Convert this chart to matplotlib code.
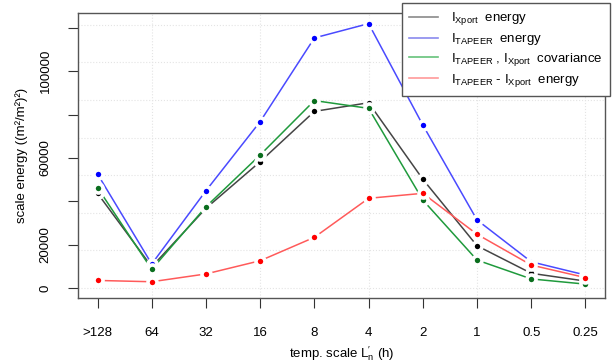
import matplotlib
matplotlib.use("Agg")
import matplotlib.pyplot as plt
import numpy as np

plt.rcParams['font.family'] = ['Liberation Sans', 'DejaVu Sans']
plt.rcParams['mathtext.fontset'] = 'custom'
plt.rcParams['mathtext.rm'] = 'Liberation Sans'
plt.rcParams['mathtext.it'] = 'Liberation Sans:italic'

scales = [">128", "64", "32", "16", "8", "4", "2", "1", "0.5", "0.25"]
xport = [43700, 9800, 36800, 58300, 81500, 85500, 50200, 19500, 6800, 3200]
tapeer = [52600, 11100, 44900, 76800, 115400, 122000, 75200, 31400, 12100, 6000]
covar = [46300, 8600, 37500, 61400, 86500, 82900, 40600, 12900, 4200, 1800]
diff = [3500, 2900, 6500, 12600, 23400, 41400, 43700, 24800, 10600, 4800]

labels = [r"$\mathrm{I_{Xport}}$  energy",
          r"$\mathrm{I_{TAPEER}}$  energy",
          r"$\mathrm{I_{TAPEER}}$ , $\mathrm{I_{Xport}}$  covariance",
          r"$\mathrm{I_{TAPEER}}$ - $\mathrm{I_{Xport}}$  energy"]
line_cols = ["#454545", "#4a4aff", "#1f9a3c", "#ff5a5a"]
pt_cols = ["black", "#0000ff", "#0a6e1e", "#ff0000"]
leg_cols = ["#8a8a8a", "#8a8aee", "#66c27a", "#ff9a9a"]

fig = plt.figure(figsize=(6.12, 3.63), dpi=100)
ax = fig.add_axes([78/612, 1-298/363, (605-78)/612, (298-13)/363])

x = np.arange(1, len(scales) + 1)
for ys, lc, pc in zip([xport, tapeer, covar, diff], line_cols, pt_cols):
    ax.plot(x, ys, color=lc, lw=1.1, zorder=2)
    ax.plot(x, ys, 'o', color=pc, ms=6.5, mec='white', mew=2.6, zorder=3)

# faint dotted grid
for g in np.arange(0, 8) * 17350:
    ax.axhline(g, color='#e4e4e4', lw=0.8, ls=':', zorder=0)
for xv in [2, 4, 6, 8, 10]:
    ax.axvline(xv, color='#e4e4e4', lw=0.8, ls=':', zorder=0)

ax.set_xlim(0.64, 10.36)
ax.set_ylim(-4600, 126900)
ax.set_xticks(x)
ax.set_xticklabels(scales)
yt = np.arange(0, 140000, 20000)
ax.set_yticks(yt)
ax.set_yticklabels([str(v) if v in (0, 20000, 60000, 100000) else "" for v in yt],
                   rotation=90, va='center')
ax.tick_params(axis='x', length=7, pad=14, labelsize=9.5, color='#333')
ax.tick_params(axis='y', length=7, pad=12, labelsize=9.5, color='#333')
for s in ax.spines.values():
    s.set_color('#555555')
    s.set_linewidth(1)

ax.set_xlabel(r"temp. scale $\mathrm{L}^{\prime}_{\mathrm{n}}$ (h)", fontsize=9.5, labelpad=4)
ax.set_ylabel("scale energy ((m\u00b2/m\u00b2)\u00b2)", fontsize=9.5, labelpad=8)

handles = [plt.Line2D([], [], color=c, lw=1.2) for c in leg_cols]
leg = fig.legend(handles, labels, loc='upper right',
                 bbox_to_anchor=(610/612, 1-3/363), fontsize=9.5,
                 frameon=True, fancybox=False, edgecolor='#555555',
                 framealpha=1, borderaxespad=0, handlelength=2.2,
                 labelspacing=0.3, borderpad=0.55, handletextpad=1.0)
leg.get_frame().set_linewidth(1)

fig.savefig("out.png", dpi=100)
